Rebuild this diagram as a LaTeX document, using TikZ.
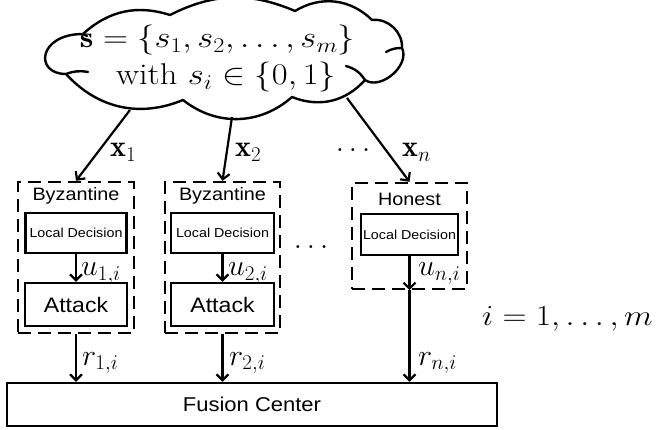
\RequirePackage{fix-cm}
\documentclass[tikz,border=0pt]{standalone}
\usepackage{graphicx}
\usepackage{fontspec}
\newfontfamily\arial[FakeStretch=1.1]{Liberation Sans}
\usetikzlibrary{arrows.meta,calc}
\begin{document}
\begin{tikzpicture}[x=1pt,y=-1pt,
  arr/.style={line width=2.2pt,-{Straight Barb[length=6pt,width=12pt,line width=2.2pt]}},
  dbox/.style={draw,line width=2.4pt,dash pattern=on 13pt off 7pt,inner sep=0pt},
  sbox/.style={draw,line width=2.3pt,inner sep=0pt},
  cloudline/.style={line width=2.4pt,line join=round,line cap=round},
  lbl/.style={inner sep=0pt,font=\fontsize{30}{34}\selectfont},
  big/.style={inner sep=0pt,font=\fontsize{30}{36}\selectfont},
  sf/.style={inner sep=0pt,font=\arial\fontsize{#1}{#1}\selectfont},
]
\useasboundingbox (0,0) rectangle (656,430);
% cloud outline
\draw[cloudline] (83,34) to[bend left=30] (170,15) to[bend left=25] (295,11)
  to[bend left=38] (372,20) to[bend left=50] (402,48) to[bend left=75] (365,80)
  to[bend left=35] (292,97) to[bend left=40] (183,100) to[bend left=35] (66,74)
  .. controls (34,74) and (38,34) .. (83,34);
\draw[cloudline] (66,74) to[bend left=15] (88,72);
\draw[cloudline] (402,48) to[bend right=15] (386,52);
\draw[cloudline] (346,66) to[bend left=20] (365,80);
\draw[cloudline] (83,34) to[bend right=10] (87,36);
\coordinate (cloud) at (222,60);
\node[big,anchor=base] (s1) at (217.5,48) {\scalebox{1.15}[1]{$\mathbf{s}=\{s_1,s_2,\ldots,s_m\}$}};
\node[big,anchor=base] (s2) at (226,85) {\scalebox{1.15}[1]{with $s_i\in\{0,1\}$}};

% dashed sensor boxes
\node[dbox,minimum width=116pt,minimum height=151pt] (d1) at (76,257.5) {};
\node[dbox,minimum width=115pt,minimum height=151pt] (d2) at (222.5,257.5) {};
\node[dbox,minimum width=115pt,minimum height=106pt] (d3) at (409.5,236) {};

\node[sf=18,anchor=base] (b1) at (76,201) {Byzantine};
\node[sf=18,anchor=base] (b2) at (222.5,201) {Byzantine};
\node[sf=18,anchor=base] (h3) at (409.5,206) {Honest};

\node[sbox,minimum width=101pt,minimum height=40pt,sf=13] (ld1) at (76,233) {Local Decision};
\node[sbox,minimum width=103pt,minimum height=40pt,sf=13] (ld2) at (222.5,233) {Local Decision};
\node[sbox,minimum width=97pt,minimum height=41pt,sf=13] (ld3) at (409.5,234.5) {Local Decision};

\node[sbox,minimum width=102pt,minimum height=43pt,sf=21] (at1) at (76,304.5) {Attack};
\node[sbox,minimum width=103pt,minimum height=43pt,sf=21] (at2) at (222.5,304.5) {Attack};

\node[sbox,minimum width=490pt,minimum height=43pt,sf=20] (fc) at (252,404.5) {Fusion Center};

% arrows from cloud
\draw[arr] ($(cloud)+(-92,50)$) -- (d1.north);
\draw[arr] ($(cloud)+(10,57)$) -- (d2.north);
\draw[arr] ($(cloud)+(125,38)$) -- (d3.north);

% internal arrows
\draw[arr] (ld1.south) -- (at1.north);
\draw[arr] (ld2.south) -- (at2.north);
\draw[arr] (ld3.south) -- (d3.south);

% to fusion center
\draw[arr] (d1.south) -- (d1.south |- fc.north);
\draw[arr] (d2.south) -- (d2.south |- fc.north);
\draw[arr] (d3.south) -- (d3.south |- fc.north);

% labels
\node[lbl,anchor=base west] (lx1) at (110,157) {$\mathbf{x}_1$};
\node[lbl,anchor=base west] (lx2) at (235,157) {$\mathbf{x}_2$};
\node[lbl,anchor=base west] (lxn) at (402,157) {$\mathbf{x}_n$};
\node[lbl,anchor=base] (dtop) at (353,152) {$\ldots$};
\node[lbl,anchor=base] (dmid) at (311,249) {$\ldots$};

\node[lbl,anchor=base west] (lu1) at (81,276) {$u_{1,i}$};
\node[lbl,anchor=base west] (lu2) at (228,276) {$u_{2,i}$};
\node[lbl,anchor=base west] (lun) at (418,276) {$u_{n,i}$};

\node[lbl,anchor=base west] (lr1) at (82,365) {$r_{1,i}$};
\node[lbl,anchor=base west] (lr2) at (229,365) {$r_{2,i}$};
\node[lbl,anchor=base west] (lrn) at (418,365) {$r_{n,i}$};

\node[inner sep=0pt,anchor=base west,font=\fontsize{29}{34}\selectfont] (iter) at (482,326) {\scalebox{1.15}[1]{$i=1,\ldots,m$}};
\end{tikzpicture}
\end{document}
